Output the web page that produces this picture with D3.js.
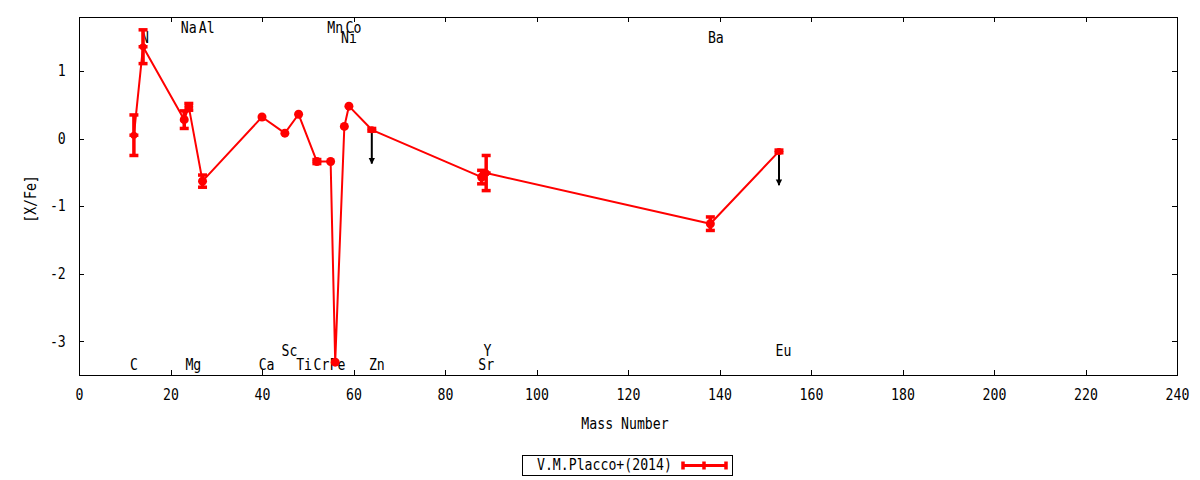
<!DOCTYPE html>
<html>
<head>
<meta charset="utf-8">
<script src="https://cdn.jsdelivr.net/npm/d3@7"></script>
<style>
	body { margin: 0; background: #fff; }
	text { font-family: "DejaVu Sans Mono", monospace; font-size: 15px; fill: #000; }
	.axis .domain { display: none; }
	.axis line { stroke: #000; shape-rendering: crispEdges; }
</style>
</head>
<body>
<div id="chart"></div>
<script>
// abundance pattern, [X/Fe] against mass number
var elements    = ["C", "N", "Na", "Mg", "Al", "Ca", "Sc", "Ti", "Cr", "Mn", "Fe", "Ni", "Co", "Zn", "Sr", "Y", "Ba", "Eu"];
var massNumbers = [12, 14, 23, 24, 27, 40, 45, 48, 52, 55, 56, 58, 59, 64, 88, 89, 138, 153];
var xfeValues   = [0.05, 1.36, 0.28, 0.47, -0.63, 0.32, 0.08, 0.36, -0.34, -0.34, -3.31, 0.18, 0.48, 0.13, -0.57, -0.51, -1.26, -0.19];
var xfeErrors   = [0.30, 0.25, 0.13, 0.05, 0.09, 0, 0, 0, 0.03, 0, 0, 0, 0, 0.02, 0.10, 0.26, 0.10, 0.02];
var upperLimits = ["Zn", "Eu"];
var limitLength = 0.5;

// element name labels (data coordinates)
var labelNames = ["C", "N", "Na", "Al", "Mn", "Co", "Ni", "Mg", "Ca", "Sc", "Ti", "Cr", "Fe", "Zn", "Sr", "Y", "Ba", "Eu"];
var labelX     = [12, 14.4, 24, 27.9, 56, 60, 59, 25, 41, 46, 49.2, 53, 56.5, 65.1, 89, 89.3, 139.2, 154];
var labelY     = [-3.36, 1.48, 1.63, 1.63, 1.63, 1.63, 1.48, -3.36, -3.36, -3.15, -3.36, -3.36, -3.36, -3.36, -3.36, -3.15, 1.48, -3.15];

var xTicks = [0, 20, 40, 60, 80, 100, 120, 140, 160, 180, 200, 220, 240];
var yTicks = [-3, -2, -1, 0, 1];

var seriesName = "V.M.Placco+(2014)";

var width = 1200, height = 480;
var margin = {top: 17, right: 23, bottom: 105, left: 79},
	Chartwidth = width - margin.left - margin.right,
	Chartheight = height - margin.top - margin.bottom;
var red = "#ff0000";
var sx = "scale(0.88,1)";

var svg = d3.select("#chart").append("svg")
	.attr("width", width)
	.attr("height", height);

var x = d3.scaleLinear().domain([0, 240]).range([0, Chartwidth]);
var y = d3.scaleLinear().domain([-3.5, 1.8]).range([Chartheight, 0]);

var g = svg.append("g")
	.attr("transform", "translate(" + margin.left + "," + margin.top + ")");

var data = elements.map(function(el, i) {
	return {el: el, m: massNumbers[i], v: xfeValues[i], e: xfeErrors[i], lim: upperLimits.indexOf(el) >= 0};
});

// axes with inward ticks on all four sides
var fmt = function(d) { return String(d); };
g.append("g").attr("class", "x axis")
	.attr("transform", "translate(0," + Chartheight + ")")
	.call(d3.axisBottom(x).tickValues(xTicks).tickSizeInner(-5).tickSizeOuter(0).tickPadding(14).tickFormat(fmt))
	.selectAll(".tick text").attr("transform", sx).attr("font-size", null).attr("font-family", null);
g.append("g").attr("class", "x axis")
	.call(d3.axisTop(x).tickValues(xTicks).tickSizeInner(-5).tickSizeOuter(0).tickFormat(""));
g.append("g").attr("class", "y axis")
	.call(d3.axisLeft(y).tickValues(yTicks).tickSizeInner(-5).tickSizeOuter(0).tickPadding(15).tickFormat(fmt))
	.selectAll(".tick text").attr("transform", sx).attr("font-size", null).attr("font-family", null);
g.append("g").attr("class", "y axis")
	.attr("transform", "translate(" + Chartwidth + ",0)")
	.call(d3.axisRight(y).tickValues(yTicks).tickSizeInner(-5).tickSizeOuter(0).tickFormat(""));

g.append("rect")
	.attr("x", 0.5).attr("y", 0.5)
	.attr("width", Chartwidth).attr("height", Chartheight)
	.attr("fill", "none").attr("stroke", "#000").attr("shape-rendering", "crispEdges");

// axis titles
g.append("text")
	.attr("transform", "translate(" + (x(120) - 3) + "," + (Chartheight + 50) + ") " + sx)
	.attr("text-anchor", "middle").attr("dominant-baseline", "middle")
	.text("Mass Number");
g.append("text")
	.attr("transform", "translate(-47," + (Chartheight / 2 + 3) + ") rotate(-90) " + sx)
	.attr("text-anchor", "middle").attr("dominant-baseline", "middle")
	.text("[X/Fe]");

// element labels
g.selectAll(".elabel")
	.data(labelNames)
  .enter().append("text")
	.attr("class", "elabel")
	.attr("transform", function(d, i) { return "translate(" + x(labelX[i]) + "," + y(labelY[i]) + ") " + sx; })
	.attr("text-anchor", "middle").attr("dominant-baseline", "middle")
	.text(function(d) { return d; });

// upper limit arrows
var defs = svg.append("defs");
defs.append("marker")
	.attr("id", "arr")
	.attr("viewBox", "0 0 10 10").attr("refX", 9).attr("refY", 5)
	.attr("markerWidth", 3.2).attr("markerHeight", 3.5)
	.attr("markerUnits", "strokeWidth")
	.attr("orient", "auto")
  .append("path").attr("d", "M0,0L10,5L0,10z").attr("fill", "#000");

g.selectAll(".limit")
	.data(data.filter(function(d) { return d.lim; }))
  .enter().append("line")
	.attr("class", "limit")
	.attr("x1", function(d) { return x(d.m); })
	.attr("x2", function(d) { return x(d.m); })
	.attr("y1", function(d) { return y(d.v); })
	.attr("y2", function(d) { return y(d.v - limitLength); })
	.attr("stroke", "#000").attr("stroke-width", 2)
	.attr("marker-end", "url(#arr)");

// connecting line
var line = d3.line()
	.x(function(d) { return x(d.m); })
	.y(function(d) { return y(d.v); });
g.append("path")
	.datum(data)
	.attr("d", line)
	.attr("fill", "none").attr("stroke", red).attr("stroke-width", 2).attr("stroke-linejoin", "round");

// error bars
var withErr = data.filter(function(d) { return d.e > 0; });
g.selectAll(".ebar")
	.data(withErr)
  .enter().append("line")
	.attr("class", "ebar")
	.attr("x1", function(d) { return x(d.m); })
	.attr("x2", function(d) { return x(d.m); })
	.attr("y1", function(d) { return y(d.v + d.e); })
	.attr("y2", function(d) { return y(d.v - d.e); })
	.attr("stroke", red).attr("stroke-width", 3.5);
[1, -1].forEach(function(s) {
	g.selectAll(".cap" + (s > 0 ? "t" : "b"))
		.data(withErr)
	  .enter().append("rect")
		.attr("x", function(d) { return x(d.m) - 4.5; })
		.attr("y", function(d) { return y(d.v + s * d.e) - 1.75; })
		.attr("width", 9).attr("height", 3.5)
		.attr("fill", red);
});

// points
g.selectAll(".pt")
	.data(data)
  .enter().append("circle")
	.attr("class", "pt")
	.attr("cx", function(d) { return x(d.m); })
	.attr("cy", function(d) { return y(d.v); })
	.attr("r", function(d) { return d.e >= 0.2 || d.lim ? 3.5 : 4.5; })
	.attr("fill", red);
g.selectAll(".ctr")
	.data(data.filter(function(d) { return d.e >= 0.2; }))
  .enter().append("rect")
	.attr("class", "ctr")
	.attr("x", function(d) { return x(d.m) - 4.5; })
	.attr("y", function(d) { return y(d.v) - 1.75; })
	.attr("width", 9).attr("height", 3.5)
	.attr("fill", red);

// legend
var lg = svg.append("g").attr("transform", "translate(522,455)");
lg.append("rect")
	.attr("x", 0.5).attr("y", 0.5).attr("width", 210).attr("height", 20)
	.attr("fill", "none").attr("stroke", "#000").attr("shape-rendering", "crispEdges");
lg.append("text")
	.attr("transform", "translate(15,11) " + sx)
	.attr("dominant-baseline", "middle")
	.text(seriesName);
lg.append("line")
	.attr("x1", 161).attr("x2", 204).attr("y1", 10.5).attr("y2", 10.5)
	.attr("stroke", red).attr("stroke-width", 3);
[161, 182, 204].forEach(function(px) {
	lg.append("rect")
		.attr("x", px - 1.75).attr("y", 6.5).attr("width", 3.5).attr("height", 8)
		.attr("fill", red);
});
</script>
</body>
</html>
